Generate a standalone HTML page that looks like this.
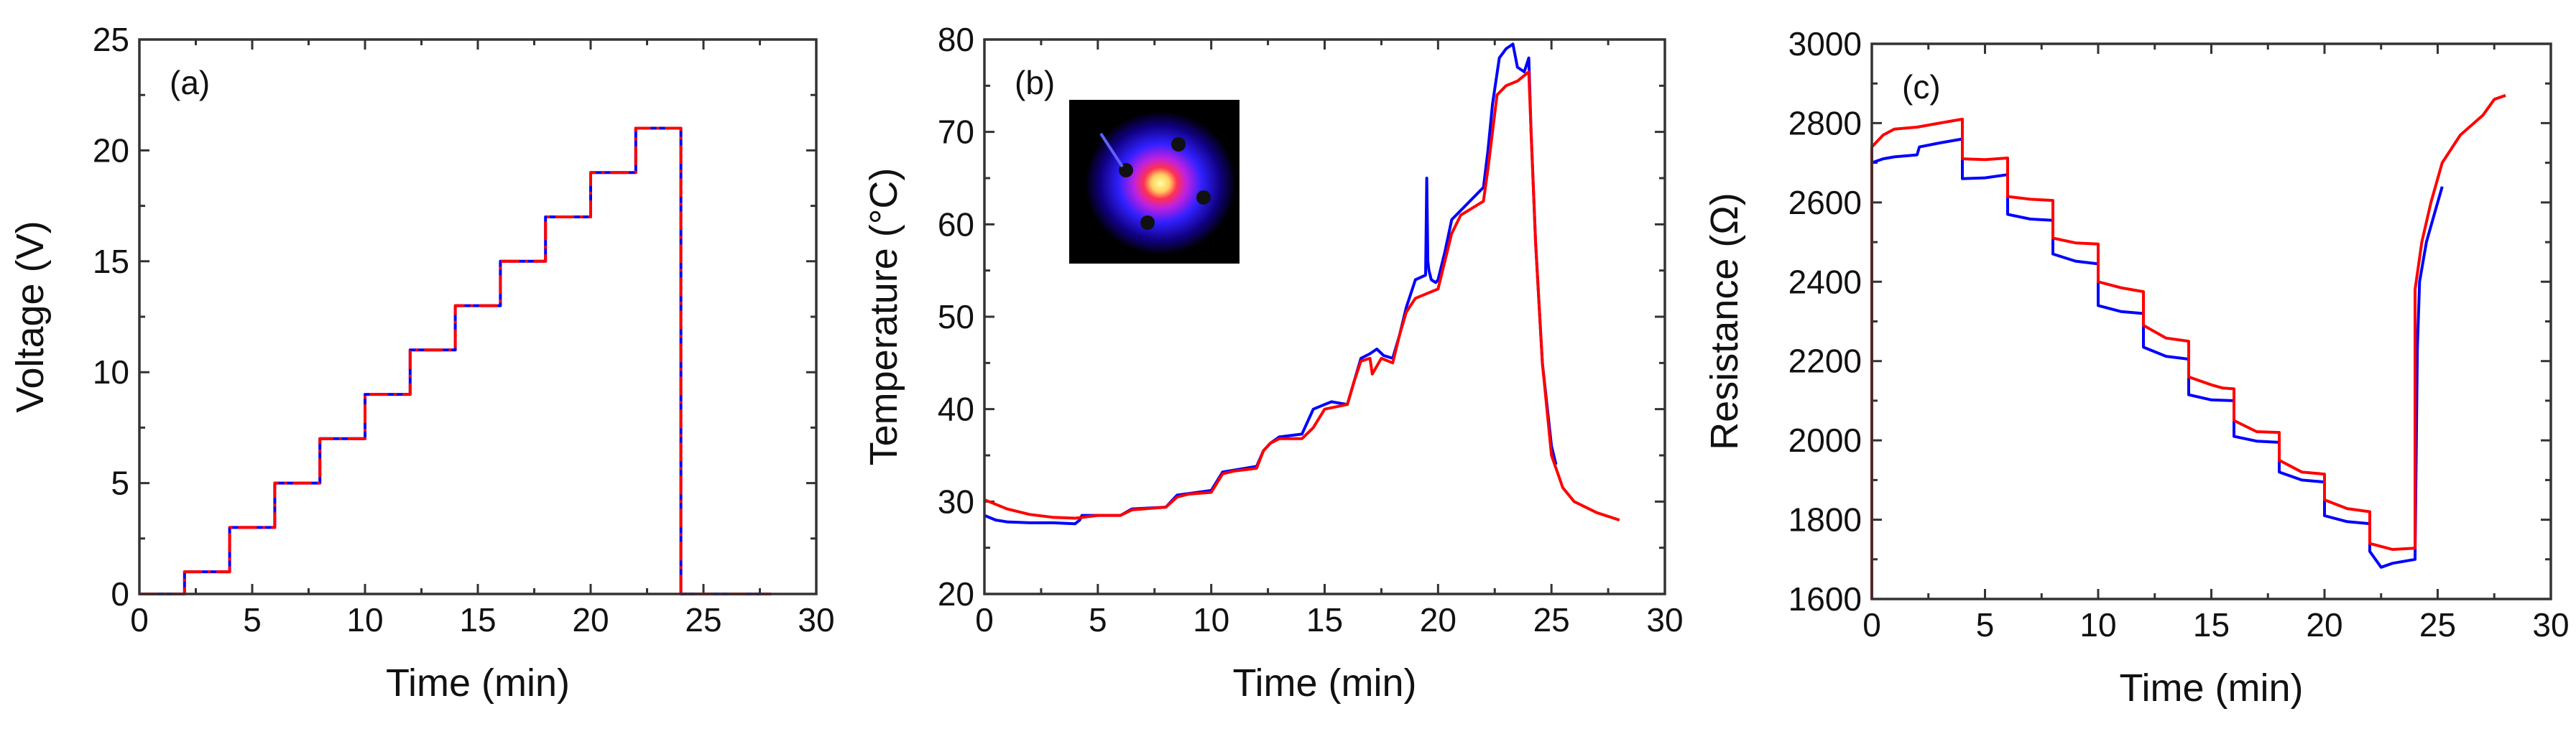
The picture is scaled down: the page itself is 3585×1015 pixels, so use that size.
<!DOCTYPE html>
<html><head><meta charset="utf-8"><style>
html,body{margin:0;padding:0;background:#fff;}
svg{display:block;font-family:"Liberation Sans",Arial,sans-serif;}
</style></head><body>
<svg id="fig" width="3585" height="1015" viewBox="0 0 3585 1015">
<defs>
<radialGradient id="heat" cx="0.5" cy="0.5" r="0.5">
<stop offset="0" stop-color="#ffffa0"/><stop offset="0.12" stop-color="#ffd060"/><stop offset="0.22" stop-color="#ff3050"/>
<stop offset="0.35" stop-color="#c020e0"/><stop offset="0.55" stop-color="#3020ff"/><stop offset="0.8" stop-color="#100080"/><stop offset="1" stop-color="#000"/>
</radialGradient>
<clipPath id="insetclip"><rect x="1488" y="139" width="237" height="228"/></clipPath>
</defs>
</svg>
<script>
// Panel (a) voltage
const aTimeRed=[0,2,2,4,4,6,6,8,8,10,10,12,12,14,14,16,16,18,18,20,20,22,22,24,24,28];
const aVolt=[0,0,1,1,3,3,5,5,7,7,9,9,11,11,13,13,15,15,17,17,19,19,21,21,0,0];
// Panel (b) temperature
const bTimeRed=[0,1,2,3,4,5,6,6.5,7,8,8.5,9,10,10.5,11,12,12.3,12.6,13,14,14.5,15,16,16.3,16.6,17,17.1,17.5,18,18.3,18.6,19,20,20.3,20.6,21,22,22.2,22.4,22.6,23,23.5,24,24.1,24.3,24.6,25,25.5,26,27,28];
const bTempRed=[30.2,29.2,28.6,28.3,28.2,28.5,28.5,29.1,29.2,29.4,30.5,30.8,31,33,33.3,33.6,35.5,36.3,36.8,36.8,38,40,40.5,43,45.2,45.5,43.8,45.5,45,48,50.5,52,53,56,59,61,62.5,66,70,74,75,75.5,76.5,70,58,45,35,31.5,30,28.8,28];
const bTimeBlue=[0,0.5,1,2,3,4,4.2,4.3,5,6,6.5,8,8.5,10,10.5,12,12.3,12.6,13,14,14.5,15,15.3,16,16.3,16.6,17,17.3,17.6,18,18.3,18.6,19,19.45,19.5,19.55,19.6,19.7,19.9,20,20.3,20.6,21,22,22.2,22.4,22.7,23,23.3,23.5,23.8,24,24.1,24.3,24.6,25,25.2];
const bTempBlue=[28.5,28,27.8,27.7,27.7,27.6,28,28.5,28.5,28.5,29.2,29.4,30.7,31.2,33.2,33.8,35.5,36.3,37,37.3,40,40.5,40.8,40.5,43,45.5,46,46.5,45.8,45.5,48,51,54,54.5,65,56,55,54,53.7,54,57,60.5,61.5,64,68,73,78,79,79.5,77,76.5,78,70,58,45,36,34];
// Panel (c) resistance
const cTimeRed=[0,0,0.5,1,2,3,4,4,5,6,6,7,8,8,9,10,10,11,12,12,13,14,14,15,15.5,16,16,17,18,18,19,20,20,21,22,22,23,24,24,24.3,24.7,25.2,26,27,27.5,28];
const cResRed=[1600,2740,2770,2785,2790,2800,2810,2710,2708,2712,2615,2608,2605,2510,2498,2495,2400,2385,2375,2290,2258,2250,2160,2140,2132,2130,2050,2022,2020,1950,1920,1915,1850,1828,1820,1740,1725,1728,2380,2500,2600,2700,2770,2820,2860,2870];
const cTimeBlue=[0,0.5,1,2,2.1,3,4,4,5,6,6,7,8,8,9,10,10,11,12,12,13,14,14,15,16,16,17,18,18,19,20,20,21,22,22,22.5,23,24,24.1,24.2,24.5,24.9,25.2];
const cResBlue=[2700,2710,2715,2720,2740,2750,2760,2660,2662,2670,2570,2558,2555,2470,2452,2445,2340,2325,2320,2235,2212,2205,2115,2102,2100,2010,1998,1995,1920,1900,1895,1810,1795,1790,1720,1680,1690,1700,2230,2400,2500,2580,2640];

const NS="http://www.w3.org/2000/svg";
const svg=document.getElementById('fig');
function mk(tag,attrs,parent){const e=document.createElementNS(NS,tag);for(const k in attrs)e.setAttribute(k,attrs[k]);(parent||svg).appendChild(e);return e;}

function panel(o){
  const g=mk('g',{});
  
  
  const sx=t=>o.x0+(t-o.xmin)/(o.xmax-o.xmin)*(o.x1-o.x0);
  const sy=v=>o.y1-(v-o.ymin)/(o.ymax-o.ymin)*(o.y1-o.y0);
  for(let t=o.xmin;t<=o.xmax+1e-9;t+=o.xminor){
    const major=Math.abs(t/o.xmajor-Math.round(t/o.xmajor))<1e-6;const L=major?14:8;const X=sx(t);
    const tk=mk('path',{d:`M${X},${o.y1}V${o.y1-L}M${X},${o.y0}V${o.y0+L}`,stroke:'#333','stroke-width':3},g);
    
    
    if(major){const tl=mk('text',{x:X,y:o.y1+52,'text-anchor':'middle','font-size':46,fill:'#111'},g);tl.textContent=String(t);
      
      }
  }
  for(let v=o.ymin;v<=o.ymax+1e-9;v+=o.yminor){
    const major=Math.abs((v-o.ymin)/o.ymajor-Math.round((v-o.ymin)/o.ymajor))<1e-6;const L=major?14:8;const Y=sy(v);
    const tk=mk('path',{d:`M${o.x0},${Y}H${o.x0+L}M${o.x1},${Y}H${o.x1-L}`,stroke:'#333','stroke-width':3},g);
    
    
    if(major){const tl=mk('text',{x:o.x0-14,y:Y+16,'text-anchor':'end','font-size':46,fill:'#111'},g);tl.textContent=String(v);
      
      }
  }
  o.series.forEach(s=>{
    const d=s.t.map((t,i)=>(i?'L':'M')+sx(t).toFixed(1)+','+sy(s.v[i]).toFixed(1)).join('');
    const p=mk('path',{d,fill:'none',stroke:s.color,'stroke-width':4,'stroke-linejoin':'round','stroke-dasharray':s.dash||'none'},g);
    
    
  });
  const fr=mk('rect',{x:o.x0,y:o.y0,width:o.x1-o.x0,height:o.y1-o.y0,fill:'none',stroke:'#333','stroke-width':3.5},g);
  
  
  const xt=mk('text',{x:(o.x0+o.x1)/2,y:o.y1+142,'text-anchor':'middle','font-size':54,fill:'#111'},g);xt.textContent='Time (min)';
  
  
  const yx=o.ylabx, yy=(o.y0+o.y1)/2;
  const yt=mk('text',{x:yx,y:yy,'text-anchor':'middle','font-size':54,fill:'#111',transform:`rotate(-90 ${yx} ${yy})`},g);yt.textContent=o.ylabel;
  
  
  const pl=mk('text',{x:o.x0+42,y:o.y0+76,'font-size':46,fill:'#111'},g);pl.textContent=o.tag;
  
  
  return g;
}

panel({name:'voltage-panel',x0:194,x1:1136,y0:55,y1:827,xmin:0,xmax:30,xmajor:5,xminor:2.5,ymin:0,ymax:25,ymajor:5,yminor:2.5,
  ylabel:'Voltage (V)',ylabx:60,tag:'(a)',
  series:[{name:'voltage-blue',t:aTimeRed,v:aVolt,color:'#0000ff'},
          {name:'voltage-red',t:aTimeRed,v:aVolt,color:'#ff0000',dash:'26 8 4 8'}]});
panel({name:'temperature-panel',x0:1370,x1:2317,y0:55,y1:827,xmin:0,xmax:30,xmajor:5,xminor:2.5,ymin:20,ymax:80,ymajor:10,yminor:5,
  ylabel:'Temperature (°C)',ylabx:1248,tag:'(b)',
  series:[{name:'temperature-blue',t:bTimeBlue,v:bTempBlue,color:'#0000ff'},
          {name:'temperature-red',t:bTimeRed,v:bTempRed,color:'#ff0000'}]});
panel({name:'resistance-panel',x0:2605,x1:3550,y0:61,y1:834,xmin:0,xmax:30,xmajor:5,xminor:2.5,ymin:1600,ymax:3000,ymajor:200,yminor:100,
  ylabel:'Resistance (Ω)',ylabx:2418,tag:'(c)',
  series:[{name:'resistance-blue',t:cTimeBlue,v:cResBlue,color:'#0000ff'},
          {name:'resistance-red',t:cTimeRed,v:cResRed,color:'#ff0000'}]});

const ig=mk('g',{'clip-path':'url(#insetclip)'});


mk('rect',{x:1488,y:139,width:237,height:228,fill:'#000'},ig);
mk('ellipse',{cx:1615,cy:255,rx:105,ry:100,fill:'url(#heat)'},ig);
[[1567,237],[1640,201],[1675,275],[1597,310]].forEach(p=>mk('circle',{cx:p[0],cy:p[1],r:10,fill:'#111'},ig));
mk('path',{d:'M1532,186L1562,232',stroke:'#6060ff','stroke-width':4},ig);
</script>
</body></html>
